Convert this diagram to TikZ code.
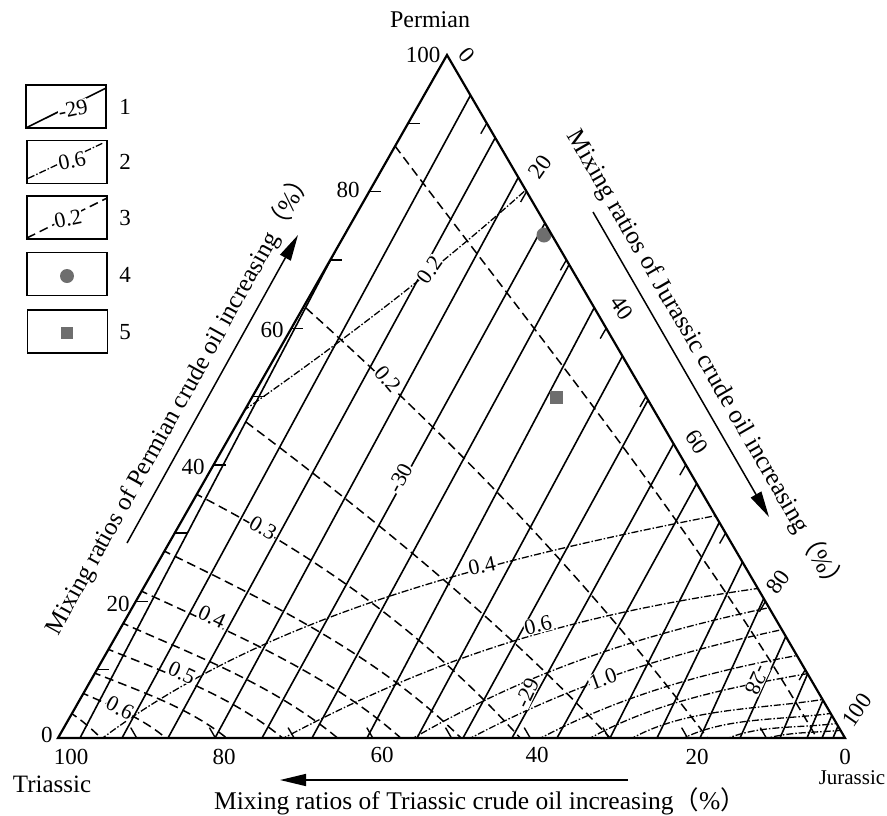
\documentclass[tikz,border=0pt]{standalone}
\usepackage{fontspec}
\setmainfont{Liberation Serif}
\newfontfamily\cjkf{Noto Sans CJK SC}
\usetikzlibrary{arrows.meta,calc}
\definecolor{ptgray}{HTML}{6E6E6E}
\begin{document}
\begin{tikzpicture}[x=1pt,y=-1pt,
  frame/.style={line width=2.2pt, line join=miter},
  isoline/.style={line width=1.6pt},
  ratioline/.style={line width=1.5pt, dash pattern=on 9pt off 5pt},
  mixline/.style={line width=1.3pt, dash pattern=on 7pt off 2pt on 1.5pt off 2pt},
  tickmark/.style={line width=1.4pt},
  clab/.style={fill=white, inner sep=0.6pt, font=\fontsize{22}{24}\selectfont},
  axnum/.style={inner sep=0pt, font=\fontsize{23}{25}\selectfont},
  titletext/.style={inner sep=0pt, font=\fontsize{25.5}{28}\selectfont},
  legbox/.style={draw, line width=1.8pt, minimum width=80pt, minimum height=43pt, inner sep=0pt},
  ptdot/.style={circle, fill=ptgray, minimum size=14pt, inner sep=0pt},
  ptsq/.style={rectangle, fill=ptgray, minimum size=12pt, inner sep=0pt},
  arrowline/.style={line width=1.5pt, -{Triangle[length=26pt,width=12pt]}}
]
\useasboundingbox (0,0) rectangle (887,815);
\coordinate (T) at (58,738);
\coordinate (J) at (845,738);
\coordinate (P) at (447,55);

\begin{scope}
\clip (T) -- (J) -- (P) -- cycle;
% solid isolines
\foreach \b/\tx/\ty in {80/340/242, 122/469/98, 168/494/140, 215/518/178, 262/545/223,
  312/570/263, 367/593/310, 417/622/357, 463/647/402, 512/673/445, 557/697/483,
  610/719/523, 657/742/563, 700/764/598, 740/786/636, 780/808/673, 807/823/700,
  822/832/715, 833/838/726}
  \draw[isoline] ($(\tx,\ty)!1.02!(\b,738)$) -- ($(\b,738)!1.05!(\tx,\ty)$);
% dashed lines
\draw[ratioline] (395,146) .. controls +(53:240) and +(240:240) .. (818,740);
\draw[ratioline] (306,308) .. controls +(42:200) and +(233:200) .. (709,740);
\draw[ratioline] (246,422) .. controls +(37:160) and +(227:160) .. (612,740);
\draw[ratioline] (194,493) .. controls +(27:140) and +(228:140) .. (522,740);
\draw[ratioline] (162,550) .. controls +(26:120) and +(225:120) .. (463,740);
\draw[ratioline] (139,590) .. controls +(25:100) and +(222:100) .. (403,740);
\draw[ratioline] (120,622) .. controls +(24:85) and +(220:85) .. (340,740);
\draw[ratioline] (105,648) .. controls +(22:68) and +(220:68) .. (285,740);
\draw[ratioline] (92,672) .. controls +(22:50) and +(220:50) .. (229,740);
\draw[ratioline] (80,692) .. controls +(24:33) and +(222:33) .. (168,740);
\draw[ratioline] (69,712) .. controls +(30:13) and +(225:13) .. (103,740);
% dash-dot lines
\draw[mixline] (243,411) .. controls +(-35:120) and +(138:120) .. (528,188);
\draw[mixline] (100,740) .. controls +(-37:200) and +(169:250) .. (719,515);
\draw[mixline] (280,740) .. controls +(-28:170) and +(172:200) .. (761,588);
\draw[mixline] (410,740) .. controls +(-30:130) and +(168:150) .. (772,607);
\draw[mixline] (467,740) .. controls +(-28:110) and +(168:130) .. (785,629);
\draw[mixline] (537,740) .. controls +(-28:90) and +(170:100) .. (800,655);
\draw[mixline] (587,740) .. controls +(-30:75) and +(170:80) .. (811,673);
\draw[mixline] (629,740) .. controls +(-30:65) and +(171:70) .. (826,699);
\draw[mixline] (680,740) .. controls +(-28:50) and +(172:55) .. (834,713);
\draw[mixline] (724,740) .. controls +(-25:37) and +(172:40) .. (840,723);
\draw[mixline] (762,740) .. controls +(-20:25) and +(174:27) .. (844,730);
\end{scope}

% contour labels
\node[clab, rotate=-50] (q1) at (388,379) {0.2};
\node[clab, rotate=-30] (q2) at (263,528) {0.3};
\node[clab, rotate=-25] (q3) at (212,617) {0.4};
\node[clab, rotate=-25] (q4) at (182,673) {0.5};
\node[clab, rotate=-28] (q5) at (120,708) {0.6};
\node[clab, rotate=55] (r1) at (430,270) {0.2};
\node[clab, rotate=12] (r2) at (482,566) {0.4};
\node[clab, rotate=14] (r3) at (538,625) {0.6};
\node[clab, rotate=20] (r4) at (603,679) {1.0};
\node[clab, rotate=62] (s1) at (400,478) {-30};
\node[clab, rotate=65] (s2) at (527,693) {-29};
\node[clab, rotate=-115] (s3) at (757,680) {-28};

% data points
\node[ptdot, minimum size=15pt] (d1) at (544,235) {};
\node[ptsq, minimum size=13pt] (d2) at (556,397) {};

% ticks
\foreach \k in {1,...,9}{
  \pgfmathsetmacro\f{\k/10}
  \draw[tickmark] ({58+389*\f},{738-683*\f}) -- ++(12,0);
  \draw[tickmark] ({845-787*\f},738) -- ++(-6,-10.4);
  \draw[tickmark] ({447+398*\f},{55+683*\f}) -- ++(-6,10.4);
}

% frame
\draw[frame] (T) -- (J) -- (P) -- cycle;

% axis numbers
\node[axnum] (l100) at (423,55) {100};
\node[axnum] (l80) at (348,190) {80};
\node[axnum] (l60) at (272,330) {60};
\node[axnum] (l40) at (193,467) {40};
\node[axnum] (l20) at (118,604) {20};
\node[axnum] (l0) at (47,735) {0};
\node[axnum] (b100) at (71,757) {100};
\node[axnum] (b80) at (224,757) {80};
\node[axnum] (b60) at (382,755) {60};
\node[axnum] (b40) at (537,755) {40};
\node[axnum] (b20) at (697,757) {20};
\node[axnum] (b0) at (845,757) {0};
\node[axnum, rotate=-50] (r0) at (467,55) {0};
\node[axnum, rotate=55] (rr20) at (540,167) {20};
\node[axnum, rotate=-55] (rr40) at (622,308) {40};
\node[axnum, rotate=-55] (rr60) at (697,442) {60};
\node[axnum, rotate=55] (rr80) at (778,582) {80};
\node[axnum, rotate=55] (rr100) at (857,710) {100};

% corner names
\node[inner sep=0pt, font=\fontsize{24}{26}\selectfont] (cP) at (430,20) {Permian};
\node[inner sep=0pt, font=\fontsize{25}{27}\selectfont] (cT) at (52,784) {Triassic};
\node[inner sep=0pt, font=\fontsize{21}{23}\selectfont] (cJ) at (852,778) {Jurassic};

% arrows
\coordinate (aL1) at (127,543);
\coordinate (aL2) at (298,235);
\coordinate (aR1) at (593,212);
\coordinate (aR2) at (769,517);
\coordinate (aB1) at (628,780);
\coordinate (aB2) at (280,780);
\draw[arrowline] (aL1) -- (aL2);
\draw[arrowline] (aR1) -- (aR2);
\draw[arrowline] (aB1) -- (aB2);

% axis titles
\node[titletext, font=\fontsize{25}{27}\selectfont, rotate=61] (tL) at (179,402) {Mixing ratios of Permian crude oil increasing{\cjkf （}\%{\cjkf ）}};
\node[titletext, rotate=-60] (tR) at (707,362) {Mixing ratios of Jurassic crude oil increasing{\cjkf （}\%{\cjkf ）}};
\node[titletext, anchor=base west] (tB) at (214,809) {Mixing ratios of Triassic crude oil increasing{\cjkf （}\%{\cjkf ）}};

% legend
\node[legbox] (k1) at (66,106.5) {};
\node[legbox] (k2) at (67,162) {};
\node[legbox] (k3) at (67,217.5) {};
\node[legbox] (k4) at (67,274) {};
\node[legbox] (k5) at (67.5,331.5) {};
\draw[isoline] ($(k1.south west)+(1,-1)$) -- ($(k1.north east)+(-1,4)$);
\draw[mixline] ($(k2.south west)+(2,-6)$) -- ($(k2.north east)+(-4,3)$);
\draw[ratioline] ($(k3.south west)+(1,-2)$) -- ($(k3.north east)+(-1,3)$);
\node[clab, rotate=12] (k1t) at (73,109) {-29};
\node[clab, rotate=12] (k2t) at (72,161) {0.6};
\node[clab, rotate=12] (k3t) at (68,219) {0.2};
\node[ptdot] (k4m) at (67,276) {};
\node[ptsq] (k5m) at (67,333) {};
\node[axnum] (n1) at (125,107) {1};
\node[axnum] (n2) at (125,162) {2};
\node[axnum] (n3) at (125,218) {3};
\node[axnum] (n4) at (125,275) {4};
\node[axnum] (n5) at (125,332) {5};
\end{tikzpicture}
\end{document}
